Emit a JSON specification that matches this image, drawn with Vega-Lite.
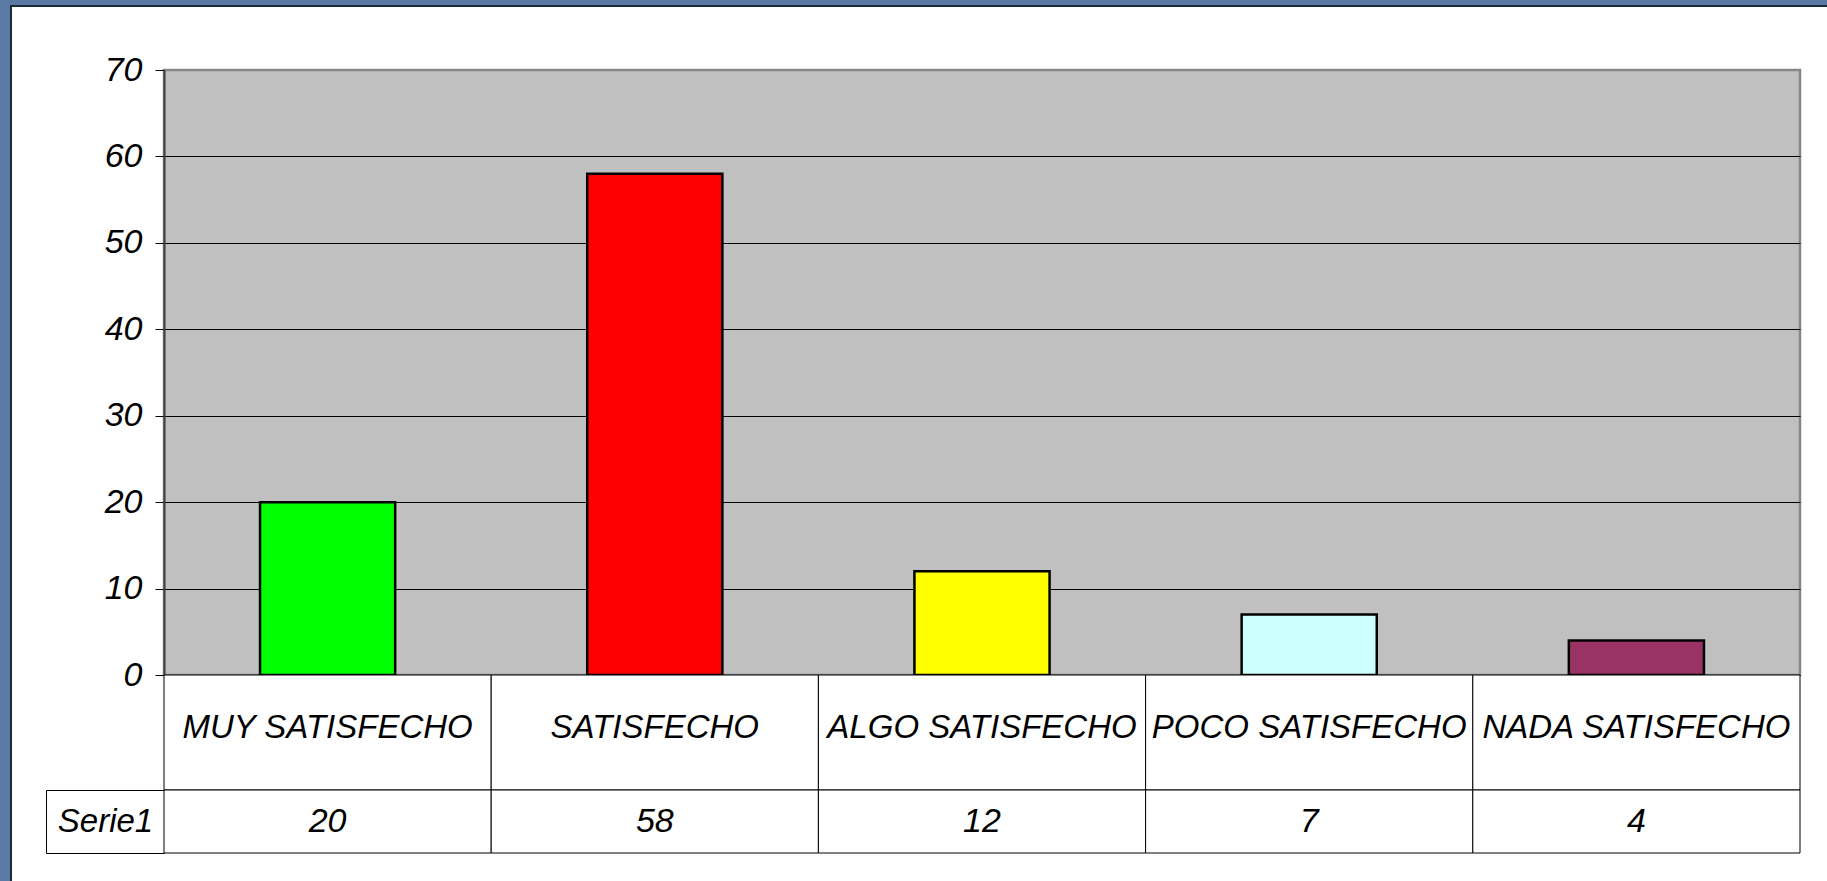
{
  "$schema": "https://vega.github.io/schema/vega-lite/v6.json",
  "background": "white",
  "padding": 0,
  "autosize": {"type": "pad"},
  "spacing": 0,
  "config": {"view": {"stroke": null}, "font": "Liberation Sans", "concat": {"spacing": 0}},
  "datasets": {
    "survey": [
      {"cat": "MUY SATISFECHO", "value": 20, "serie": "Serie1"},
      {"cat": "SATISFECHO", "value": 58, "serie": "Serie1"},
      {"cat": "ALGO SATISFECHO", "value": 12, "serie": "Serie1"},
      {"cat": "POCO SATISFECHO", "value": 7, "serie": "Serie1"},
      {"cat": "NADA SATISFECHO", "value": 4, "serie": "Serie1"}
    ],
    "none": []
  },
  "vconcat": [
    {"width": 1827, "height": 5, "data": {"name": "none"}, "mark": "rect", "view": {"fill": "#5a7aa3", "stroke": null}},
    {
      "spacing": 0,
      "hconcat": [
        {"width": 10, "height": 876, "data": {"name": "none"}, "mark": "rect", "view": {"fill": "#5a7aa3", "stroke": null}},
        {
          "spacing": 0,
          "vconcat": [
            {"width": 1817, "height": 2, "data": {"name": "none"}, "mark": "rect", "view": {"fill": "#1c2a3c", "stroke": null}},
            {
              "spacing": 0,
              "hconcat": [
                {"width": 2, "height": 874, "data": {"name": "none"}, "mark": "rect", "view": {"fill": "#1c2a3c", "stroke": null}},
                {"width": 33, "height": 1, "data": {"name": "none"}, "mark": "rect", "view": {"stroke": null}},
                {
                  "spacing": 0,
                  "vconcat": [
                    {"width": 1, "height": 44, "data": {"name": "none"}, "mark": "rect", "view": {"stroke": null}},
                    {
                      "spacing": 0, "bounds": "flush",
                      "vconcat": [
                        {
                          "width": 1636,
                          "height": 605,
                          "data": {"name": "survey"},
                          "view": {"fill": "#C0C0C0", "stroke": "#868686", "strokeWidth": 2.5},
                          "mark": {"type": "bar", "width": {"band": 0.413}, "stroke": "black", "strokeWidth": 2.5},
                          "encoding": {
                            "x": {"field": "cat", "type": "nominal", "sort": null, "scale": {"paddingInner": 0, "paddingOuter": 0}, "axis": null},
                            "y": {"field": "value", "type": "quantitative", "scale": {"domain": [0, 70], "nice": false},
                              "axis": {"values": [0, 10, 20, 30, 40, 50, 60, 70], "title": null, "grid": true,
                                "gridColor": "black", "gridWidth": 1,
                                "gridOpacity": {"condition": {"test": "datum.value >= 70", "value": 0}, "value": 1},
                                "tickColor": "black", "tickSize": 9, "tickWidth": 1,
                                "domainColor": "#404040", "domainWidth": 2,
                                "labelFont": "Liberation Sans", "labelFontStyle": "italic", "labelFontSize": 34,
                                "labelColor": "black", "labelPadding": 13}},
                            "color": {"field": "cat", "type": "nominal", "legend": null,
                              "scale": {"domain": ["MUY SATISFECHO", "SATISFECHO", "ALGO SATISFECHO", "POCO SATISFECHO", "NADA SATISFECHO"],
                                "range": ["#00FF00", "#FF0000", "#FFFF00", "#CCFFFF", "#993366"]}}
                          }
                        },
                        {
                          "width": 1636,
                          "height": 115,
                          "data": {"name": "survey"},
                          "encoding": {
                            "x": {"field": "cat", "type": "nominal", "sort": null, "scale": {"paddingInner": 0, "paddingOuter": 0}, "axis": null}
                          },
                          "layer": [
                            {"mark": {"type": "rect", "fill": "white", "stroke": "black", "strokeWidth": 1}},
                            {"mark": {"type": "text", "font": "Liberation Sans", "fontStyle": "italic", "fontSize": 33, "baseline": "middle", "dy": -5, "color": "black"},
                              "encoding": {"text": {"field": "cat"}}}
                          ]
                        },
                        {
                          "width": 1636,
                          "height": 63,
                          "data": {"name": "survey"},
                          "encoding": {
                            "x": {"field": "cat", "type": "nominal", "sort": null, "scale": {"paddingInner": 0, "paddingOuter": 0}, "axis": null},
                            "y": {"field": "serie", "type": "nominal", "scale": {"paddingInner": 0, "paddingOuter": 0},
                              "axis": {"orient": "left", "title": null, "offset": 118, "tickSize": -118, "tickBand": "extent",
                                "tickColor": "black", "tickWidth": 1, "domainColor": "black", "domainWidth": 1,
                                "labelPadding": 59, "labelAlign": "center", "labelBaseline": "middle",
                                "labelFont": "Liberation Sans", "labelFontStyle": "italic", "labelFontSize": 33, "labelColor": "black", "grid": false}}
                          },
                          "layer": [
                            {"mark": {"type": "rect", "fill": "white", "stroke": "black", "strokeWidth": 1}},
                            {"mark": {"type": "text", "font": "Liberation Sans", "fontStyle": "italic", "fontSize": 34, "baseline": "middle", "color": "black"},
                              "encoding": {"text": {"field": "value"}}}
                          ]
                        }
                      ]
                    }
                  ]
                }
              ]
            }
          ]
        }
      ]
    }
  ]
}
